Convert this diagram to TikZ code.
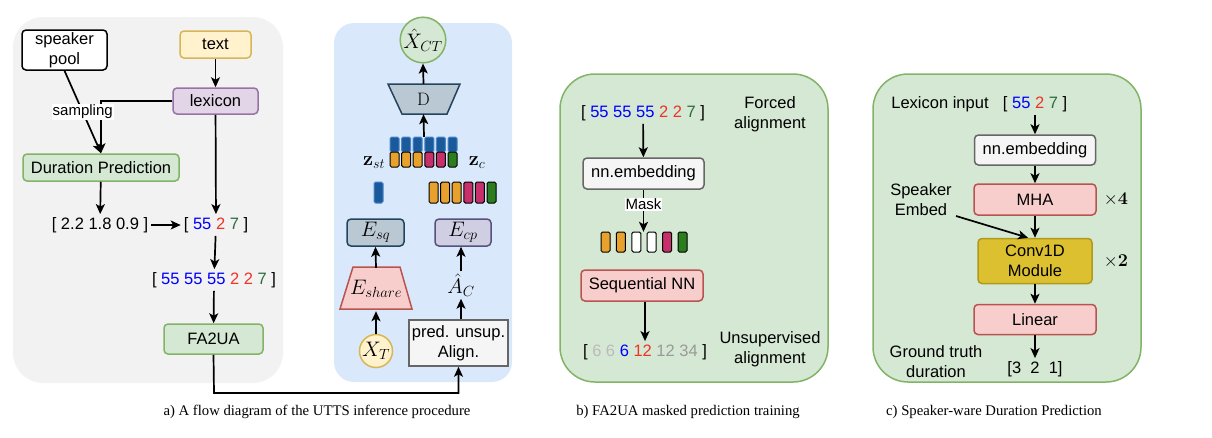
\RequirePackage{fix-cm}
\documentclass[tikz,border=0pt]{standalone}
\usepackage[no-math]{fontspec}
\setmainfont{Liberation Sans}
\newfontfamily\capfont{Liberation Serif}
\usetikzlibrary{arrows.meta}
\definecolor{greybg}{HTML}{F2F2F2}
\definecolor{bluebg}{HTML}{DAE8FC}
\definecolor{greenfill}{HTML}{D5E8D4}
\definecolor{greenbd}{HTML}{82B366}
\definecolor{yellowfill}{HTML}{FFF2CC}
\definecolor{yellowbd}{HTML}{D6B656}
\definecolor{purplefill}{HTML}{E1D5E7}
\definecolor{purplebd}{HTML}{9673A6}
\definecolor{redfill}{HTML}{F8CECC}
\definecolor{redbd}{HTML}{B85450}
\definecolor{grayfill}{HTML}{F5F5F5}
\definecolor{graybd}{HTML}{666666}
\definecolor{steelfill}{HTML}{BAC8D3}
\definecolor{steelbd}{HTML}{23445D}
\definecolor{lavfill}{HTML}{D0CEE2}
\definecolor{lavbd}{HTML}{56517E}
\definecolor{convfill}{HTML}{DCC030}
\definecolor{convbd}{HTML}{B09A1E}
\definecolor{barorange}{HTML}{E8A12C}
\definecolor{barmag}{HTML}{C7306A}
\definecolor{bargreen}{HTML}{2C7D1E}
\definecolor{barblue}{HTML}{1B5A9A}
\definecolor{barblueb}{HTML}{4A86C8}
\definecolor{dblue}{HTML}{0000FF}
\definecolor{dred}{HTML}{EE3328}
\definecolor{dgreen}{HTML}{2F6B3F}
\definecolor{dlgray}{HTML}{BBBBBB}
\definecolor{dmgray}{HTML}{999999}
\newcommand\DigB[1]{\textcolor{dblue}{#1}}
\newcommand\DigR[1]{\textcolor{dred}{#1}}
\newcommand\DigG[1]{\textcolor{dgreen}{#1}}
\newcommand\DigL[1]{\textcolor{dlgray}{#1}}
\newcommand\DigM[1]{\textcolor{dmgray}{#1}}
\begin{document}
\begin{tikzpicture}[x=1pt,y=-1pt,
  every node/.style={font=\fontsize{16.5}{20}\selectfont, inner sep=2pt},
  box/.style={draw, rounded corners=4pt, line width=1.5pt, inner sep=0pt, align=center},
  plain/.style={inner sep=3pt, align=center},
  mth/.style={font=\fontsize{21}{23}\selectfont, inner sep=0pt},
  mthsm/.style={font=\fontsize{18}{20}\selectfont, inner sep=0pt},
  captext/.style={font=\capfont\fontsize{14.7}{17}\selectfont},
  arr/.style={-{Stealth[length=10pt,width=9pt,inset=2.5pt]}, line width=1.7pt},
  bar/.style={rounded corners=1.5pt, line width=1pt, draw=black}
]
\useasboundingbox (0,0) rectangle (1212,437);

% backgrounds
\fill[greybg, rounded corners=30pt] (13,17) rectangle (283,383);
\fill[bluebg, rounded corners=20pt] (334,23) rectangle (512,382);
\draw[greenbd, fill=greenfill, line width=1.5pt, rounded corners=35pt] (560,74) rectangle (828,382);
\draw[greenbd, fill=greenfill, line width=1.5pt, rounded corners=35pt] (873,74) rectangle (1141,382);

% ---------- panel a (left) ----------
\node[box, draw=black, fill=white, minimum width=85, minimum height=40] (spk) at (64.5,50) {speaker\\pool};
\node[box, draw=yellowbd, fill=yellowfill, minimum width=71, minimum height=27] (txt) at (215.5,44.5) {text};
\node[box, draw=purplebd, fill=purplefill, minimum width=85, minimum height=26] (lex) at (215.5,101) {lexicon};
\node[box, draw=greenbd, fill=greenfill, minimum width=156, minimum height=27] (dur) at (101,167.5) {Duration Prediction};
\node[plain] (dvec) at (100,225) {[ 2.2 1.8 0.9 ]};
\node[plain] (lvec) at (216,225) {[ \DigB{55} \DigR{2} \DigG{7} ]};
\node[plain] (evec) at (214,280) {[ \DigB{55 55 55} \DigR{2 2} \DigG{7} ]};
\node[box, draw=greenbd, fill=greenfill, minimum width=99, minimum height=30] (fa) at (213.5,339) {FA2UA};

\draw[arr] (txt) -- (lex);
\draw[arr] (lex.west) -| (dur.north);
\draw[arr] (spk.south) -- node[pos=0.5, fill=white, inner sep=1pt, font=\fontsize{15}{17}\selectfont] (smp) {sampling} (dur.north);
\draw[arr] (dur) -- (dvec);
\draw[arr] (dvec) -- (lvec);
\draw[arr] (lex) -- (lvec);
\draw[arr] (lvec) -- (evec);
\draw[arr] (evec) -- (fa);

% ---------- panel a (right, blue) ----------
\node[circle, draw=greenbd, fill=greenfill, line width=1.5pt, minimum size=34, inner sep=0pt, mth] (xct) at (423,40) {$\hat{X}_{CT}$};
\fill[steelfill, draw=steelbd, line width=1.5pt] (388,84) -- (460,84) -- (447,114) -- (402,114) -- cycle;
\node[mthsm, minimum width=72, minimum height=30] (D) at (423.5,99) {$\mathrm{D}$};
\draw[arr] (D.north) -- (xct.south);

% stacked bars z_st / z_c
\foreach \c [count=\i from 0] in {barorange,barorange,barorange,barmag,barmag,bargreen} {
  \draw[fill=barblue, draw=barblueb, rounded corners=1.5pt, line width=1pt] ({390+\i*11.6},137) rectangle ++(9,15);
  \draw[bar, fill=\c] ({390+\i*11.6},152) rectangle ++(9,15);
}
\node[minimum width=67, minimum height=30, inner sep=0pt] (stack) at (424,152) {};
\draw[arr] (stack.north) -- (D.south);
\node[mth, font=\fontsize{20}{22}\selectfont] (zst) at (374,163) {$\mathbf{z}_{st}$};
\node[mth, font=\fontsize{20}{22}\selectfont] (zc) at (477,163) {$\mathbf{z}_{c}$};

\draw[fill=barblue, draw=barblueb, rounded corners=1.5pt, line width=1pt] (374,182) rectangle (383,203);
\foreach \c [count=\i from 0] in {barorange,barorange,barorange,barmag,barmag,bargreen} {
  \draw[bar, fill=\c] ({429+\i*11.6},182) rectangle ++(9,21);
}

\node[box, mth, draw=steelbd, fill=steelfill, minimum width=57, minimum height=27] (esq) at (375.5,232.5) {$E_{sq}$};
\node[box, mth, draw=lavbd, fill=lavfill, minimum width=56, minimum height=27] (ecp) at (463,232.5) {$E_{cp}$};
\fill[redfill, draw=redbd, line width=1.5pt] (353,267) -- (400,267) -- (412,309) -- (340,309) -- cycle;
\node[mth, minimum width=72, minimum height=42] (esh) at (376,289) {$E_{share}$};
\node[circle, mth, draw=yellowbd, fill=yellowfill, line width=1.5pt, minimum size=30, inner sep=0pt] (xt) at (376,351) {$X_T$};
\node[mth] (ac) at (461,285) {$\hat{A}_C$};
\node[draw=graybd, fill=grayfill, line width=1.5pt, minimum width=99, minimum height=46, inner sep=0pt, align=center] (pred) at (458.5,343) {pred. unsup.\\Align.};

\draw[arr] (xt) -- ([yshift=-1pt]esh.south);
\draw[arr] (esh.north) -- (esq.south);
\draw[arr] (pred.north -| ac) -- ([yshift=-2pt]ac.south);
\draw[arr] ([yshift=2pt]ac.north) -- (ecp.south -| ac);
\coordinate (bend) at (214,393);
\draw[arr] (fa.south) -- (bend) -| (pred.south);

% ---------- panel b ----------
\node[plain] (bvec) at (643,113) {[ \DigB{55 55 55} \DigR{2 2} \DigG{7} ]};
\node[box, draw=graybd, fill=grayfill, minimum width=121, minimum height=31] (bemb) at (643.5,173.5) {nn.embedding};
\foreach \c [count=\i from 0] in {barorange,barorange,white,white,barmag,bargreen} {
  \draw[bar, fill=\c] ({601+\i*15.4},232) rectangle ++(9,20);
}
\node[minimum width=86, minimum height=20, inner sep=0pt] (bbars) at (644,242) {};
\node[box, draw=redbd, fill=redfill, minimum width=122, minimum height=31] (seq) at (642,285.5) {Sequential NN};
\node[plain] (bout) at (645,352) {[ \DigL{6 6} \DigB{6} \DigR{12} \DigM{12 34} ]};
\node[plain] (forced) at (770,114) {Forced\\alignment};
\node[plain] (unsup) at (770,349) {Unsupervised\\alignment};

\draw[arr] (bvec) -- (bemb);
\draw[arr] (bemb.south) -- node[pos=0.35, fill=white, inner sep=1pt, font=\fontsize{15}{17}\selectfont] (mask) {Mask} (bbars.north -| bemb.south);
\draw[arr] (seq.south -| bout) -- (bout);

% ---------- panel c ----------
\node[plain] (lexin) at (940,104) {Lexicon input};
\node[plain] (cvec) at (1035,104) {[ \DigB{55} \DigR{2} \DigG{7} ]};
\node[box, draw=graybd, fill=grayfill, minimum width=121, minimum height=30] (cemb) at (1035,150) {nn.embedding};
\node[box, draw=redbd, fill=redfill, minimum width=122, minimum height=31] (mha) at (1035,199.5) {MHA};
\node[box, draw=convbd, fill=convfill, minimum width=114, minimum height=45] (conv) at (1035,261) {Conv1D\\Module};
\node[box, draw=redbd, fill=redfill, minimum width=122, minimum height=30] (lin) at (1035,319.5) {Linear};
\node[plain] (cout) at (1035,369) {[3\ \ 2\ \ 1]};
\node[mthsm] (t4) at (1116,199) {$\times\mathbf{4}$};
\node[mthsm] (t2) at (1116,261) {$\times\mathbf{2}$};
\node[plain] (spe) at (921,200) {Speaker\\Embed};
\node[plain] (gt) at (936,362) {Ground truth\\duration};
\coordinate (sestart) at (956,216);

\draw[arr] (cvec) -- (cemb);
\draw[arr] (cemb) -- (mha);
\draw[arr] (mha) -- (conv);
\draw[arr] (conv) -- (lin);
\draw[arr] (lin) -- (cout);
\draw[arr] (sestart) -- ([xshift=-7pt]conv.north);

% ---------- captions ----------
\node[captext] (capa) at (317,412) {a) A flow diagram of the UTTS inference procedure};
\node[captext] (capb) at (688,412) {b) FA2UA masked prediction training};
\node[captext] (capc) at (994,412) {c) Speaker-ware Duration Prediction};
\end{tikzpicture}
\end{document}
